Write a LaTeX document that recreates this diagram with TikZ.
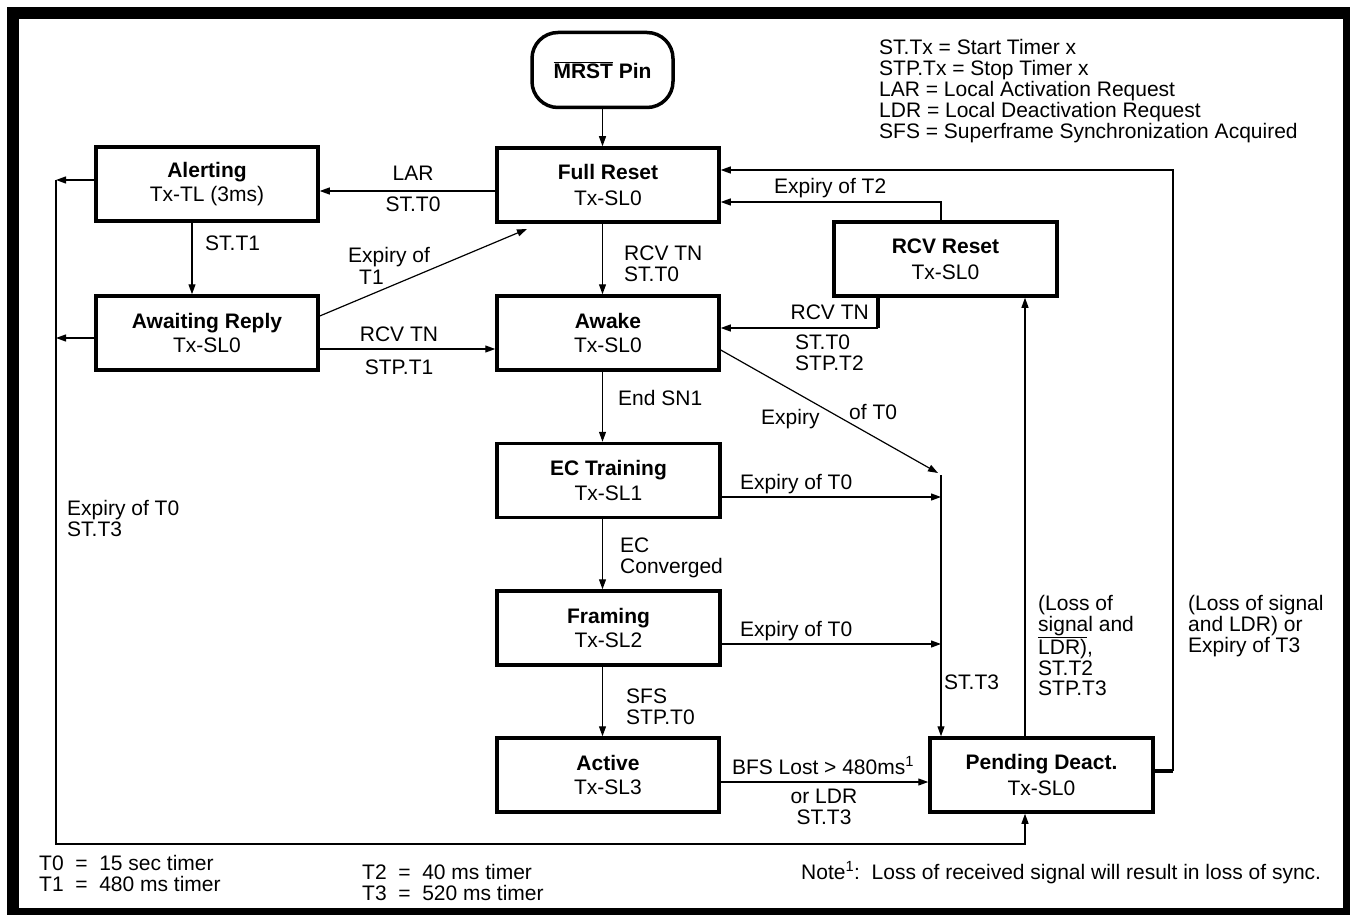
\documentclass[tikz,border=0pt]{standalone}
\usepackage{fontspec}
\setmainfont{Liberation Sans}
\usetikzlibrary{arrows.meta}
\newcommand{\myovl}[1]{$\overline{\hbox{#1}}$}
\begin{document}
\begin{tikzpicture}[x=1pt,y=-1pt,
  every node/.style={font=\fontsize{21}{20.8}\selectfont, inner sep=0pt},
  stbox/.style={draw, line width=3.5pt, minimum width=222pt, minimum height=74pt, align=center},
  conn/.style={line width=1.2pt, -{Triangle[length=10pt,width=7pt]}},
  thin/.style={line width=1.2pt},
  thick/.style={line width=3.5pt},
  lbl/.style={anchor=base west},
  lblc/.style={anchor=base},
  lble/.style={anchor=base east},
  mlbl/.style={anchor=north west, align=left},
]
\useasboundingbox (0,0) rectangle (1350,915);
\draw[line width=12pt] (13,13) rectangle (1349,914);

% states
\node[draw, line width=3.5pt, rounded corners=26pt, minimum width=141pt, minimum height=75pt] (mrst) at (602.5,70) {\textbf{\myovl{MRST} Pin}};
\node[stbox] (alert) at (207,184) {\textbf{Alerting}\\[4pt]Tx-TL (3ms)};
\node[stbox] (full) at (608,185) {\textbf{Full Reset}\\[5pt]Tx-SL0};
\node[stbox] (await) at (207,333) {\textbf{Awaiting Reply}\\[3pt]Tx-SL0};
\node[stbox] (awake) at (608,333) {\textbf{Awake}\\[3pt]Tx-SL0};
\node[stbox, minimum width=223pt] (rcv) at (945.5,259) {\textbf{RCV Reset}\\[5pt]Tx-SL0};
\node[stbox, minimum width=223pt] (ec) at (608.5,480.5) {\textbf{EC Training}\\[4pt]Tx-SL1};
\node[stbox, minimum width=223pt] (fram) at (608.5,628) {\textbf{Framing}\\[3pt]Tx-SL2};
\node[stbox] (active) at (608,775) {\textbf{Active}\\[3pt]Tx-SL3};
\node[stbox, minimum width=223pt] (pend) at (1041.5,775) {\textbf{Pending Deact.}\\[6pt]Tx-SL0};

% helper coordinates
\coordinate (t1end) at (527,229);
\coordinate (jtop) at (941,475);
\coordinate (jdiag) at (938,473);
\coordinate (rcvk) at (878,328);
\coordinate (rstub) at (1173,771);
\coordinate (ltop) at (56,180);
\coordinate (lbot) at (56,844);

% connectors
\draw[conn] (mrst.south) -- (mrst.south |- full.north);
\draw[conn] (full.west |- 0,191) -- (alert.east |- 0,191);
\draw[conn] (alert.south -| 192,0) -- (await.north -| 192,0);
\draw[conn] (await.east |- 0,316) -- (t1end);
\draw[conn] (await.east |- 0,349) -- (awake.west |- 0,349);
\draw[conn] (full.south -| mrst) -- (awake.north -| mrst);
\draw[conn] (awake.south -| mrst) -- (ec.north -| mrst);
\draw[conn] (ec.south -| mrst) -- (fram.north -| mrst);
\draw[conn] (fram.south -| mrst) -- (active.north -| mrst);
\draw[conn] (active.east |- 0,782) -- (pend.west |- 0,782);
\draw[conn] (awake.east |- 0,350) -- (jdiag);
\draw[conn] (jtop) -- (pend.north -| jtop);
\draw[conn] (ec.east |- 0,497) -- (jtop |- 0,497);
\draw[conn] (fram.east |- 0,644) -- (jtop |- 0,644);
\draw[conn] (pend.north -| 1025,0) -- (rcv.south -| 1025,0);
\draw[thick] (rcv.south -| rcvk) -- (rcvk);
\draw[conn] (rcvk) -- (awake.east |- rcvk);
\draw[conn] (rcv.north -| 941,0) |- (full.east |- 0,202);
\draw[thick] (pend.east |- rstub) -- (rstub);
\draw[conn] (rstub) |- (full.east |- 0,170);
\draw[conn] (alert.west |- ltop) -- (ltop);
\draw[conn] (await.west |- 0,338) -- (ltop |- 0,338);
\draw[conn] (ltop) -- (lbot) -| (pend.south -| 1025,0);

% labels
\node[lblc] (l1) at (413,180.5) {LAR};
\node[lblc] (l2) at (413,211.5) {ST.T0};
\node[lbl] (l3) at (205,250.5) {ST.T1};
\node[lbl] (l4) at (348,262.5) {Expiry of};
\node[lbl] (l5) at (359,284.5) {T1};
\node[lblc] (l6) at (399,341.5) {RCV TN};
\node[lblc] (l7) at (399,374.5) {STP.T1};
\node[mlbl] (l8) at (624,245.5) {RCV TN\\ST.T0};
\node[lbl] (l9) at (618,405.5) {End SN1};
\node[mlbl] (l10) at (620,537.5) {EC\\Converged};
\node[mlbl] (l11) at (626,688.5) {SFS\\STP.T0};
\node[lbl] (l12) at (774,193.5) {Expiry of T2};
\node[lble] (l13) at (869,319.5) {RCV TN};
\node[mlbl] (l14) at (795,334.5) {ST.T0\\STP.T2};
\node[lbl] (l15) at (761,424.5) {Expiry};
\node[lbl] (l16) at (849,419.5) {of T0};
\node[lbl] (l17) at (740,489.5) {Expiry of T0};
\node[lbl] (l18) at (740,636.5) {Expiry of T0};
\node[lbl] (l19) at (944,689.5) {ST.T3};
\node[lblc] (l20) at (823,774.5) {BFS Lost > 480ms\textsuperscript{1}};
\node[lblc] (l21) at (824,803.5) {or LDR};
\node[lblc] (l22) at (824,824.5) {ST.T3};
\node[mlbl] (l23) at (1038,595.5) {(Loss of\\signal and\\\myovl{LDR)},\\ST.T2\\STP.T3};
\node[mlbl] (l24) at (1188,595.5) {(Loss of signal\\and LDR) or\\Expiry of T3};
\node[mlbl] (l25) at (67,500.5) {Expiry of T0\\ST.T3};
\node[mlbl] (legend) at (879,39.5) {ST.Tx = Start Timer x\\STP.Tx = Stop Timer x\\LAR = Local Activation Request\\LDR = Local Deactivation Request\\SFS = Superframe Synchronization Acquired};
\node[mlbl] (tim1) at (39,855.5) {T0\ \ =\ \ 15 sec timer\\T1\ \ =\ \ 480 ms timer};
\node[mlbl] (tim2) at (362,864.5) {T2\ \ =\ \ 40 ms timer\\T3\ \ =\ \ 520 ms timer};
\node[lbl] (note) at (801,879.5) {Note\textsuperscript{1}:\ \ Loss of received signal will result in loss of sync.};
\end{tikzpicture}
\end{document}
